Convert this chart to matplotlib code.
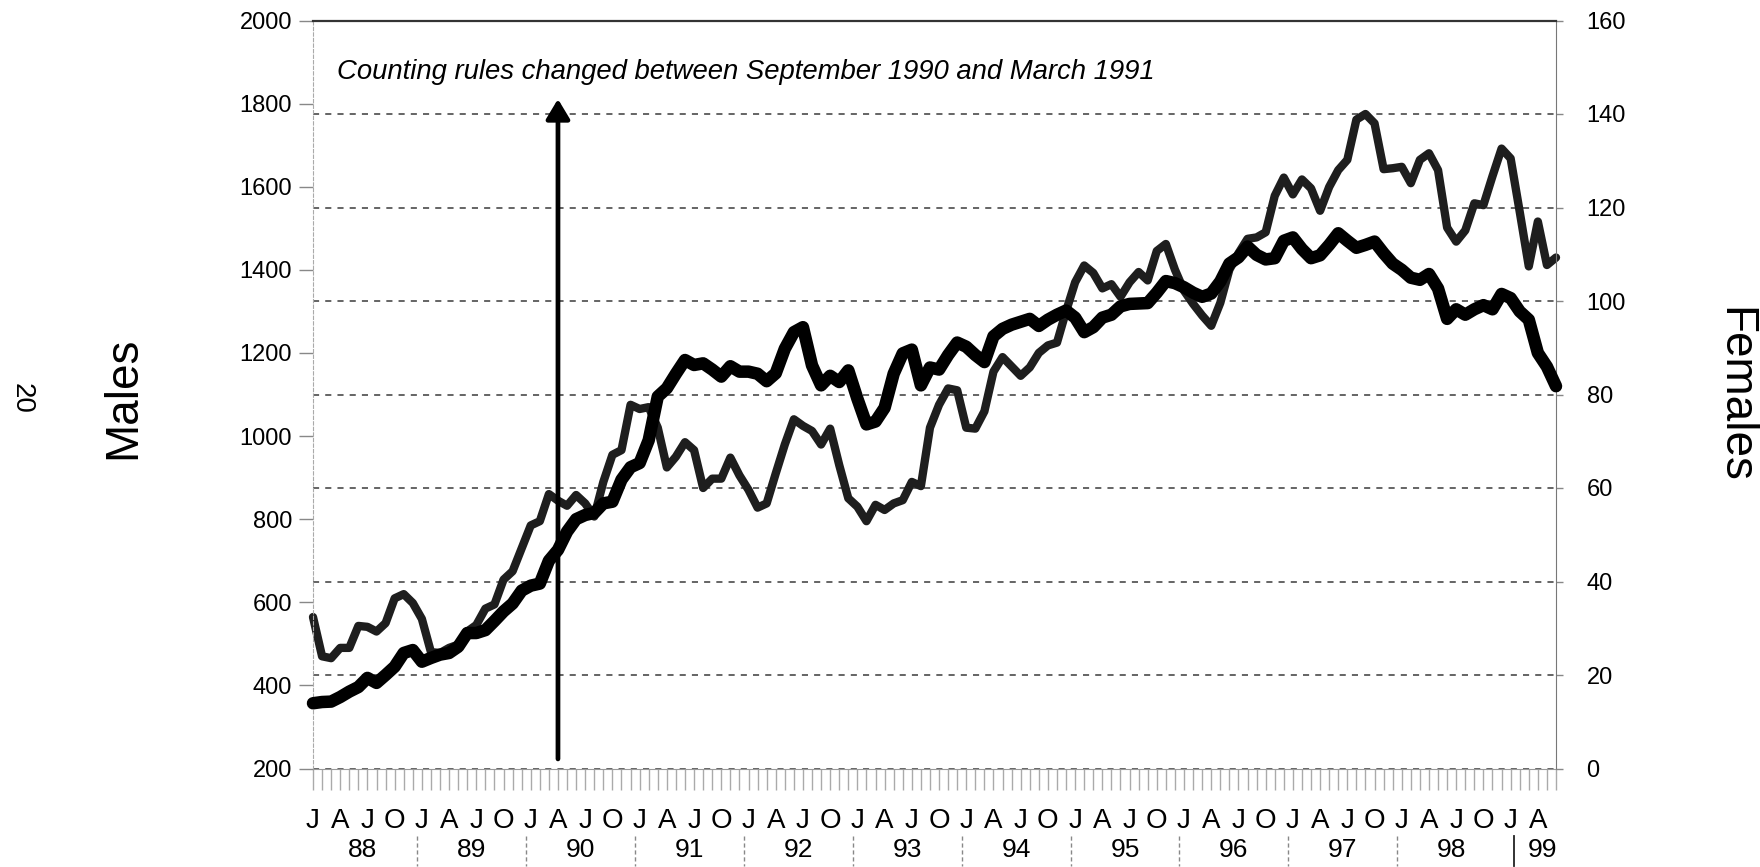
import matplotlib
matplotlib.use("Agg")
import matplotlib.pyplot as plt
from matplotlib import font_manager
import numpy as np

# ---------------- data (monthly, Jan 1988 - Jun 1999) ----------------
males = [357, 360, 361, 372, 385, 396, 418, 406, 425, 445, 478, 485,
         457, 466, 474, 478, 493, 526, 526, 533, 555, 578, 597, 628,
         640, 645, 700, 726, 770, 800, 810, 815, 838, 842, 895, 925,
         935, 990, 1095, 1115, 1150, 1183, 1171, 1175, 1160, 1143, 1168, 1155,
         1155, 1150, 1132, 1151, 1210, 1250, 1262, 1170, 1122, 1145, 1130, 1158,
         1090, 1028, 1035, 1068, 1150, 1199, 1208, 1122, 1165, 1160, 1195, 1225,
         1215, 1195, 1178, 1240, 1258, 1268, 1275, 1282, 1265, 1280, 1292, 1302,
         1285, 1250, 1262, 1285, 1292, 1312, 1318, 1319, 1320, 1345, 1373, 1368,
         1358, 1345, 1335, 1343, 1372, 1415, 1430, 1456, 1436, 1425, 1428, 1470,
         1478, 1450, 1428, 1435, 1460, 1488, 1470, 1453, 1460, 1468, 1440, 1415,
         1400, 1381, 1376, 1390, 1355, 1282, 1305, 1292, 1305, 1315, 1305, 1342,
         1332, 1300, 1280, 1200, 1167, 1120]

females = [32.4, 24.0, 23.6, 25.8, 25.8, 30.5, 30.3, 29.3, 31.1, 36.4, 37.3, 35.4,
           32.0, 24.9, 24.7, 25.8, 26.5, 29.3, 30.7, 34.2, 35.1, 40.4, 42.2, 47.1,
           52.0, 52.9, 58.7, 57.3, 56.2, 58.5, 56.7, 53.9, 61.3, 67.1, 68.1, 77.8,
           76.9, 77.3, 72.9, 64.4, 66.7, 69.8, 68.1, 60.0, 62.0, 62.0, 66.5, 62.7,
           59.6, 55.8, 56.7, 63.1, 69.3, 74.7, 73.3, 72.2, 69.3, 72.7, 64.9, 57.8,
           56.0, 52.9, 56.4, 55.3, 56.7, 57.4, 61.3, 60.4, 72.9, 77.8, 81.3, 80.9,
           72.9, 72.7, 76.4, 84.9, 88.0, 86.0, 84.0, 85.8, 88.9, 90.5, 91.1, 97.8,
           104.0, 107.6, 106.0, 102.7, 103.6, 100.9, 104.0, 106.2, 104.4, 110.7, 112.2, 106.7,
           102.2, 99.4, 96.9, 94.7, 99.6, 106.7, 110.2, 113.3, 113.6, 114.7, 122.5, 126.4,
           122.8, 126.0, 124.1, 119.3, 124.4, 128.0, 130.2, 138.8, 140.0, 138.0, 128.2, 128.4,
           128.7, 125.2, 130.2, 131.6, 128.0, 115.7, 112.7, 115.1, 120.9, 120.5, 126.7, 132.6,
           130.5, 119.1, 107.4, 117.0, 107.7, 109.3]

quarter_labels = ["J", "A", "J", "O"] * 11 + ["J", "A"]
year_labels = ["88", "89", "90", "91", "92", "93", "94", "95", "96", "97", "98", "99"]
male_ticks = [200, 400, 600, 800, 1000, 1200, 1400, 1600, 1800, 2000]
female_ticks = [0, 20, 40, 60, 80, 100, 120, 140, 160]
note = "Counting rules changed between September 1990 and March 1991"
arrow_month = 27          # April 1990
arrow_span = (223, 1811)  # in male-axis units

# ---------------- fonts ----------------
names = {f.name for f in font_manager.fontManager.ttflist}
NARROW = "Liberation Sans Narrow" if "Liberation Sans Narrow" in names else "Liberation Sans"
REG = "Liberation Sans"
plt.rcParams["font.family"] = [REG, "DejaVu Sans"]

W, H = 1760, 867
fig = plt.figure(figsize=(W / 100, H / 100), dpi=100)
L, R, T, B = 313, 1556, 20.5, 768.5
ax2 = fig.add_axes([L / W, 1 - B / H, (R - L) / W, (B - T) / H])
ax = fig.add_axes([L / W, 1 - B / H, (R - L) / W, (B - T) / H], sharex=ax2)
ax.patch.set_visible(False)

n = len(males)
x = np.arange(n)

# female series (right axis) + grid
ax2.plot(x, females, color="#1e1e1e", lw=6.0, solid_joinstyle="round",
         solid_capstyle="round", zorder=3, clip_on=False)
ax2.set_ylim(0, 160)
ax2.set_yticks(female_ticks)
ax2.yaxis.tick_right()
ax2.yaxis.grid(True, color="#3a3a3a", lw=1.1, ls=(0, (4, 4)))
ax2.tick_params(axis="y", direction="out", length=5, width=1, color="#888888",
                labelsize=17, pad=17)
for lab in ax2.get_yticklabels():
    lab.set_fontfamily(REG)
for s in ax2.spines.values():
    s.set_visible(False)

# male series (left axis)
ax.plot(x, males, color="black", lw=9.0, solid_joinstyle="round",
        solid_capstyle="round", zorder=3, clip_on=False)
ax.set_xlim(0, n - 1)
ax.set_ylim(200, 2000)
ax.set_yticks(male_ticks)
ax.tick_params(axis="y", direction="out", length=10, width=1, color="#888888",
               labelsize=17, pad=5)
ax.spines["top"].set_color("#333333")
ax.spines["top"].set_linewidth(1.6)
ax.spines["left"].set_color("#aaaaaa")
ax.spines["left"].set_linestyle((0, (3, 2)))
ax.spines["right"].set_color("#777777")
ax.spines["bottom"].set_color("#999999")
ax.spines["bottom"].set_linestyle((0, (2, 1)))

# monthly ticks
ax.set_xticks(x)
ax.set_xticklabels([])
ax.tick_params(axis="x", direction="out", length=15, width=1, color="#aaaaaa")
ax2.tick_params(axis="x", length=0)

xt = ax.get_xaxis_transform()
for k, lab in enumerate(quarter_labels):
    ax.text(3 * k, (B - 821) / (B - T), lab, transform=xt, ha="center", va="center",
            fontsize=20, family=NARROW)
for k, lab in enumerate(year_labels):
    if k < len(year_labels) - 1:
        xc = 12 * k + 5.5
    else:
        xc = 12 * k + 3.5
    ax.text(xc, (B - 850) / (B - T), lab, transform=xt, ha="center", va="center",
            fontsize=19, family=NARROW)
for k in range(1, len(year_labels)):
    last = k == len(year_labels) - 1
    xs = 12 * k - 0.5 + (0.9 if last else 0)
    ax.plot([xs, xs], [(B - 836) / (B - T), (B - 866) / (B - T)],
            transform=xt, clip_on=False,
            color="#222222" if last else "#888888", lw=1.3 if last else 1.0,
            ls="-" if last else (0, (3, 2)))

# arrow
ax.annotate("", xy=(arrow_month, arrow_span[1]), xytext=(arrow_month, arrow_span[0]),
            arrowprops=dict(arrowstyle="-|>,head_length=0.6,head_width=0.36",
                            lw=3.4, color="black", shrinkA=0, shrinkB=0,
                            mutation_scale=20), zorder=5)

# annotation text, fitted to the width it has in the reference
note_txt = fig.text(337 / W, 1 - 72 / H, note, ha="left", va="center", style="italic",
                    fontsize=23, family=NARROW)
fig.canvas.draw()
w_now = note_txt.get_window_extent().width
note_txt.set_fontsize(23 * 819.0 / w_now)

fig.text(123 / W, 1 - 398 / H, "Males", rotation=90, ha="center", va="center",
         fontsize=33, family=NARROW)
fig.text(1734 / W, 1 - 395 / H, "Females", rotation=270, ha="center", va="center",
         fontsize=33, family=NARROW)
fig.text(22 / W, 1 - 398 / H, "20", rotation=270, ha="center", va="center",
         fontsize=20, family=REG)

fig.savefig("out.png", dpi=100)
